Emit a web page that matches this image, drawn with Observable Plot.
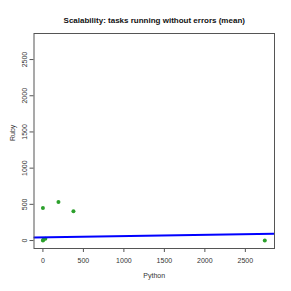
<!DOCTYPE html>
<html><head><meta charset="utf-8">
<script src="https://cdn.jsdelivr.net/npm/d3@7"></script>
<script src="https://cdn.jsdelivr.net/npm/@observablehq/plot@0.6"></script>
<style>body{margin:0;background:#fff}</style>
</head><body><div id="chart"></div>
<script>
const title = "Scalability: tasks running without errors (mean)";
const xLabel = "Python";
const yLabel = "Ruby";
const pythonVals = [0, 192, 377, 0, 5, 30, 2740];
const rubyVals = [449, 532, 403, 0, 10, 25, 0];
const axisLimits = [0, 2750];
const tickValues = [0, 500, 1000, 1500, 2000, 2500];
const fitIntercept = [44];
const fitSlope = [0.0169];

const ext = (axisLimits[1] - axisLimits[0]) * 0.04;
const dom = [axisLimits[0] - ext, axisLimits[1] + ext];
const pts = pythonVals.map((x, i) => ({x, y: rubyVals[i]}));
const fitLine = dom.map(x => ({x, y: fitIntercept[0] + fitSlope[0] * x}));
const font = "Liberation Sans, Arial, Helvetica, sans-serif";

const plot = Plot.plot({
  width: 291, height: 291,
  marginLeft: 33.5, marginRight: 17, marginTop: 33, marginBottom: 43,
  style: {fontFamily: font, fontSize: "7px", color: "#333", background: "#fff"},
  x: {domain: dom},
  y: {domain: dom},
  marks: [
    Plot.dot(pts, {x: "x", y: "y", r: 2, fill: "#2ca02c", stroke: "none"}),
    Plot.line(fitLine, {x: "x", y: "y", stroke: "#0000ff", strokeWidth: 2, clip: true}),
    Plot.frame({stroke: "#555"}),
    Plot.axisX({ticks: tickValues, tickFormat: d => String(d), tickSize: 4, tickPadding: 6, label: null, stroke: "#555"}),
    Plot.axisY({ticks: tickValues, tickFormat: d => String(d), tickSize: 4, tickPadding: 3, tickRotate: -90, label: null, stroke: "#555", textAnchor: "middle"}),
    Plot.text([xLabel], {frameAnchor: "bottom", dy: 29.5, text: d => d, fontSize: 7, fill: "#333"}),
    Plot.text([yLabel], {frameAnchor: "left", dx: -21, rotate: -90, text: d => d, fontSize: 7, fill: "#333"}),
    Plot.text([title], {frameAnchor: "top", dy: -16, text: d => d, fontSize: 8, fontWeight: "bold", fill: "#111"})
  ]
});
document.getElementById("chart").appendChild(plot);
</script>
</body></html>
